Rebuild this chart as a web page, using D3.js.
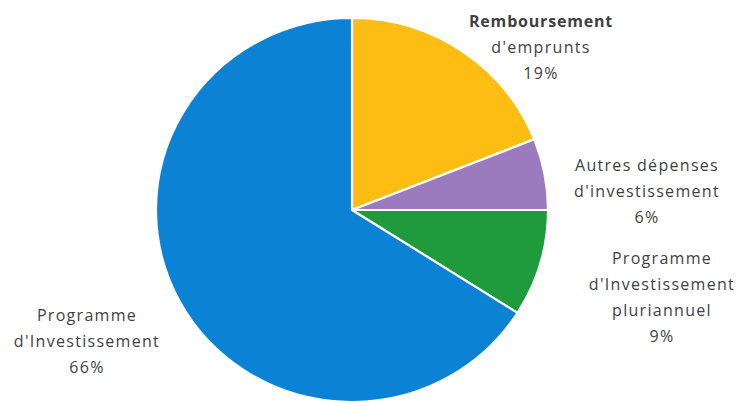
<!DOCTYPE html>
<html>
<head>
<meta charset="utf-8">
<script src="https://cdn.jsdelivr.net/npm/d3@7/dist/d3.min.js"></script>
<style>
  html, body { margin: 0; padding: 0; background: #fff; }
  svg { display: block; }
  text { font-family: "Open Sans", "Noto Sans", sans-serif; fill: #3f3f3f; }
</style>
</head>
<body>
<div id="chart"></div>
<script>
// Répartition des dépenses d'investissement (en %)
const categories = [
  "Remboursement d'emprunts",
  "Autres dépenses d'investissement",
  "Programme d'Investissement pluriannuel",
  "Programme d'Investissement"
];
const values = [19, 6, 9, 66];
const colors = ["#fdbd12", "#9b7bbd", "#1f9a3c", "#0b82d4"];
// Étiquettes : lignes de texte de chaque part
const labelLines = [
  ["Remboursement", "d'emprunts", "19%"],
  ["Autres dépenses", "d'investissement", "6%"],
  ["Programme", "d'Investissement", "pluriannuel", "9%"],
  ["Programme", "d'Investissement", "66%"]
];
const boldFirst = [true, false, false, false];

const W = 743, H = 403;
const cx = 352, cy = 210, rx = 196, ry = 192;

const svg = d3.select("#chart").append("svg")
  .attr("width", W).attr("height", H);

const pie = d3.pie().sort(null).value(d => d)
  .startAngle(0).endAngle(2 * Math.PI);
const arcs = pie(values);
const arc = d3.arc().innerRadius(0).outerRadius(ry);

const g = svg.append("g")
  .attr("transform", `translate(${cx},${cy}) scale(${rx / ry},1)`);

g.selectAll("path").data(arcs).join("path")
  .attr("d", arc)
  .attr("fill", (d, i) => colors[i])
  .attr("stroke", "#ffffff")
  .attr("stroke-width", 2.2)
  .attr("stroke-linejoin", "round")
  .attr("vector-effect", "non-scaling-stroke");

// Position du centre de chaque bloc d'étiquette
const labelPos = [
  { x: 541, y: 21 },
  { x: 647, y: 165 },
  { x: 662, y: 258 },
  { x: 87, y: 315 }
];
const lineH = 26;

const lg = svg.append("g");
labelLines.forEach((lines, i) => {
  const t = lg.append("text")
    .attr("text-anchor", "middle")
    .attr("font-size", 16);
  lines.forEach((s, k) => {
    const bold = boldFirst[i] && k === 0;
    t.append("tspan")
      .attr("x", labelPos[i].x)
      .attr("y", labelPos[i].y + k * lineH)
      .attr("dy", "0.35em")
      .attr("font-weight", bold ? 700 : 400)
      .attr("letter-spacing", bold ? 0.8 : 1.3)
      .text(s);
  });
});
</script>
</body>
</html>
